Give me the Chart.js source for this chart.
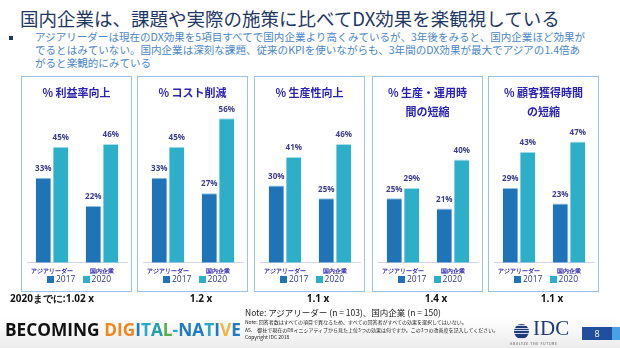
<!DOCTYPE html>
<html>
<head>
<meta charset="utf-8">
<script src="https://cdn.jsdelivr.net/npm/chart.js@4/dist/chart.umd.min.js"></script>
<style>
  body { margin:0; width:620px; height:348px; overflow:hidden; background:#fff; position:relative;
         font-family:"Noto Sans CJK JP", "Noto Sans", sans-serif; }
  .abs { position:absolute; white-space:nowrap; }
  .panel { position:absolute; top:76px; width:111px; height:216px; border:1px solid #9cc2e2; box-sizing:border-box; }
  .panel canvas { position:absolute; left:0; top:0; }
  .ptitle { position:absolute; left:0; right:0; text-align:center; color:#2a22b0; font-weight:bold;
            font-size:11px; line-height:19px; top:6px; }
  .legend { position:absolute; left:0; right:0; top:197px; text-align:center; font-family:"Open Sans", sans-serif;
            font-size:8.5px; line-height:10px; color:#2f3a7a; }
  .legend span.box { display:inline-block; width:7px; height:7px; margin:0 2px 0 5px; vertical-align:-0.5px; }
  .mult { position:absolute; top:291px; font-weight:bold; font-size:10px; color:#111; font-family:"Open Sans", sans-serif; }
  .foot { position:absolute; left:0; top:318px; width:620px; height:30px;
          background:linear-gradient(to bottom, #ffffff, #ececec); }
</style>
</head>
<body>
<div class="foot"></div>
<div class="abs" style="left:20px;top:5px;font-size:18.5px;color:#1f3864;">国内企業は、課題や実際の施策に比べてDX効果を楽観視している</div>
<div class="abs" style="left:9px;top:36px;width:4px;height:4px;background:#1f3864;"></div>
<div class="abs" style="left:35px;top:30px;font-size:10.55px;line-height:13px;color:#4a86c8;">アジアリーダーは現在のDX効果を5項目すべてで国内企業より高くみているが、3年後をみると、国内企業ほど効果が<br>でるとはみていない。国内企業は深刻な課題、従来のKPIを使いながらも、3年間のDX効果が最大でアジアの1.4倍あ<br>がると楽観的にみている</div>

<div id="panels"></div>

<div class="abs" style="left:245px;top:306px;font-size:8.5px;color:#222;">Note: アジアリーダー (n = 103)、国内企業 (n = 150)</div>
<div class="abs" style="left:245px;top:318px;font-size:5px;line-height:7.5px;color:#222;">Note: 回答者数はすべての項目で異なるため、すべての回答者がすべての効果を選択してはいない。<br>A5.　御社で現在のDXイニシアティブから見た上位3つの効果は何ですか。この3つの改善度を記入してください。<br>Copyright IDC 2018</div>

<div class="abs" style="left:5px;top:318px;font-size:17.3px;font-weight:bold;font-family:'Open Sans',sans-serif;">
<span style="color:#111">BECOMING </span><span style="color:#f0861e">DIG</span><span style="color:#1f7cc2">I</span><span style="color:#2aa7c9">T</span><span style="color:#21a0a8">A</span><span style="color:#5aae48">L</span><span style="color:#2aa7c9">-</span><span style="color:#1f7cc2">NA</span><span style="color:#2aa7c9">T</span><span style="color:#1f7cc2">I</span><span style="color:#f4b43a">V</span><span style="color:#1f7cc2">E</span>
</div>

<!-- IDC logo -->
<div class="abs" style="left:514px;top:324px;width:15px;height:15px;border-radius:8px;overflow:hidden;
  background:repeating-linear-gradient(to bottom,#1d3c78 0,#1d3c78 1.5px,#c9d6ea 1.5px,#c9d6ea 2.5px);"></div>
<div class="abs" style="left:533px;top:316px;font-size:21px;font-family:'Liberation Serif',serif;color:#1d3c78;">IDC</div>
<div class="abs" style="left:510px;top:341px;font-size:3.6px;letter-spacing:0.6px;color:#555;">ANALYZE THE FUTURE</div>
<div class="abs" style="left:582px;top:327px;width:30px;height:13px;background:#1f4f9e;color:#fff;font-size:9px;line-height:13px;text-align:center;font-family:'Open Sans',sans-serif;">8</div>
<div class="abs" style="left:612px;top:327px;width:8px;height:13px;background:#4aa0e6;"></div>

<script>
// カテゴリ・系列
var categories = ['アジアリーダー', '国内企業'];
var seriesLabels = ['2017', '2020'];
var panelTitles = [
  ['% 利益率向上'],
  ['% コスト削減'],
  ['% 生産性向上'],
  ['% 生産・運用時', '間の短縮'],
  ['% 顧客獲得時間', 'の短縮']
];
var values2017 = [[33, 22], [33, 27], [30, 25], [25, 21], [29, 23]];
var values2020 = [[45, 46], [45, 56], [41, 46], [29, 40], [43, 47]];
var multipliers = ['2020までに:1.02 x', '1.2 x', '1.1 x', '1.4 x', '1.1 x'];

var colors = ['#1f73b7', '#2eafc9'];
var panelLeft = [21, 137, 254, 372, 488];

// 棒の上に値を描く
var valueLabels = {
  id: 'valueLabels',
  afterDatasetsDraw: function(chart) {
    var ctx = chart.ctx;
    ctx.save();
    ctx.font = 'bold 8px "Open Sans", sans-serif';
    ctx.fillStyle = '#3c3c8c';
    ctx.textAlign = 'center';
    ctx.textBaseline = 'bottom';
    chart.data.datasets.forEach(function(ds, i) {
      chart.getDatasetMeta(i).data.forEach(function(bar, j) {
        ctx.fillText(ds.data[j] + '%', bar.x, bar.y - 5);
      });
    });
    ctx.restore();
  }
};

var host = document.getElementById('panels');
panelTitles.forEach(function(t, p) {
  var div = document.createElement('div');
  div.className = 'panel';
  div.style.left = panelLeft[p] + 'px';
  var c = document.createElement('canvas');
  c.width = 109; c.height = 214;
  div.appendChild(c);
  var tt = document.createElement('div');
  tt.className = 'ptitle';
  tt.innerHTML = t.join('<br>');
  div.appendChild(tt);
  var lg = document.createElement('div');
  lg.className = 'legend';
  lg.innerHTML = seriesLabels.map(function(s, i) {
    return '<span class="box" style="background:' + colors[i] + '"></span>' + s;
  }).join(' ');
  div.appendChild(lg);
  host.appendChild(div);

  var m = document.createElement('div');
  m.className = 'mult';
  m.textContent = multipliers[p];
  if (p === 0) { m.style.left = '10px'; }
  else { m.style.left = (panelLeft[p] + 64) + 'px'; m.style.transform = 'translateX(-50%)'; }
  document.body.appendChild(m);

  new Chart(c, {
    type: 'bar',
    data: {
      labels: categories,
      datasets: [
        { label: seriesLabels[0], data: values2017[p], backgroundColor: colors[0], borderColor: '#8fc1e6', borderWidth: {top: 1} },
        { label: seriesLabels[1], data: values2020[p], backgroundColor: colors[1], borderColor: '#a6e0ea', borderWidth: {top: 1} }
      ]
    },
    options: {
      responsive: false,
      animation: false,
      devicePixelRatio: 1,
      categoryPercentage: 0.7,
      barPercentage: 0.86,
      layout: { padding: { left: 5, right: 4, top: 31, bottom: 11 } },
      plugins: {
        title: { display: false },
        tooltip: { enabled: false },
        legend: { display: false }
      },
      scales: {
        y: { display: false, min: 0, max: 60 },
        x: {
          grid: { display: false, drawTicks: false },
          border: { color: '#d4d4ee' },
          ticks: { color: '#2a22b0', padding: 5, maxRotation: 0, minRotation: 0, autoSkip: false,
                   font: { size: 6, weight: 'bold' } }
        }
      }
    },
    plugins: [valueLabels]
  });
});
</script>
</body>
</html>
